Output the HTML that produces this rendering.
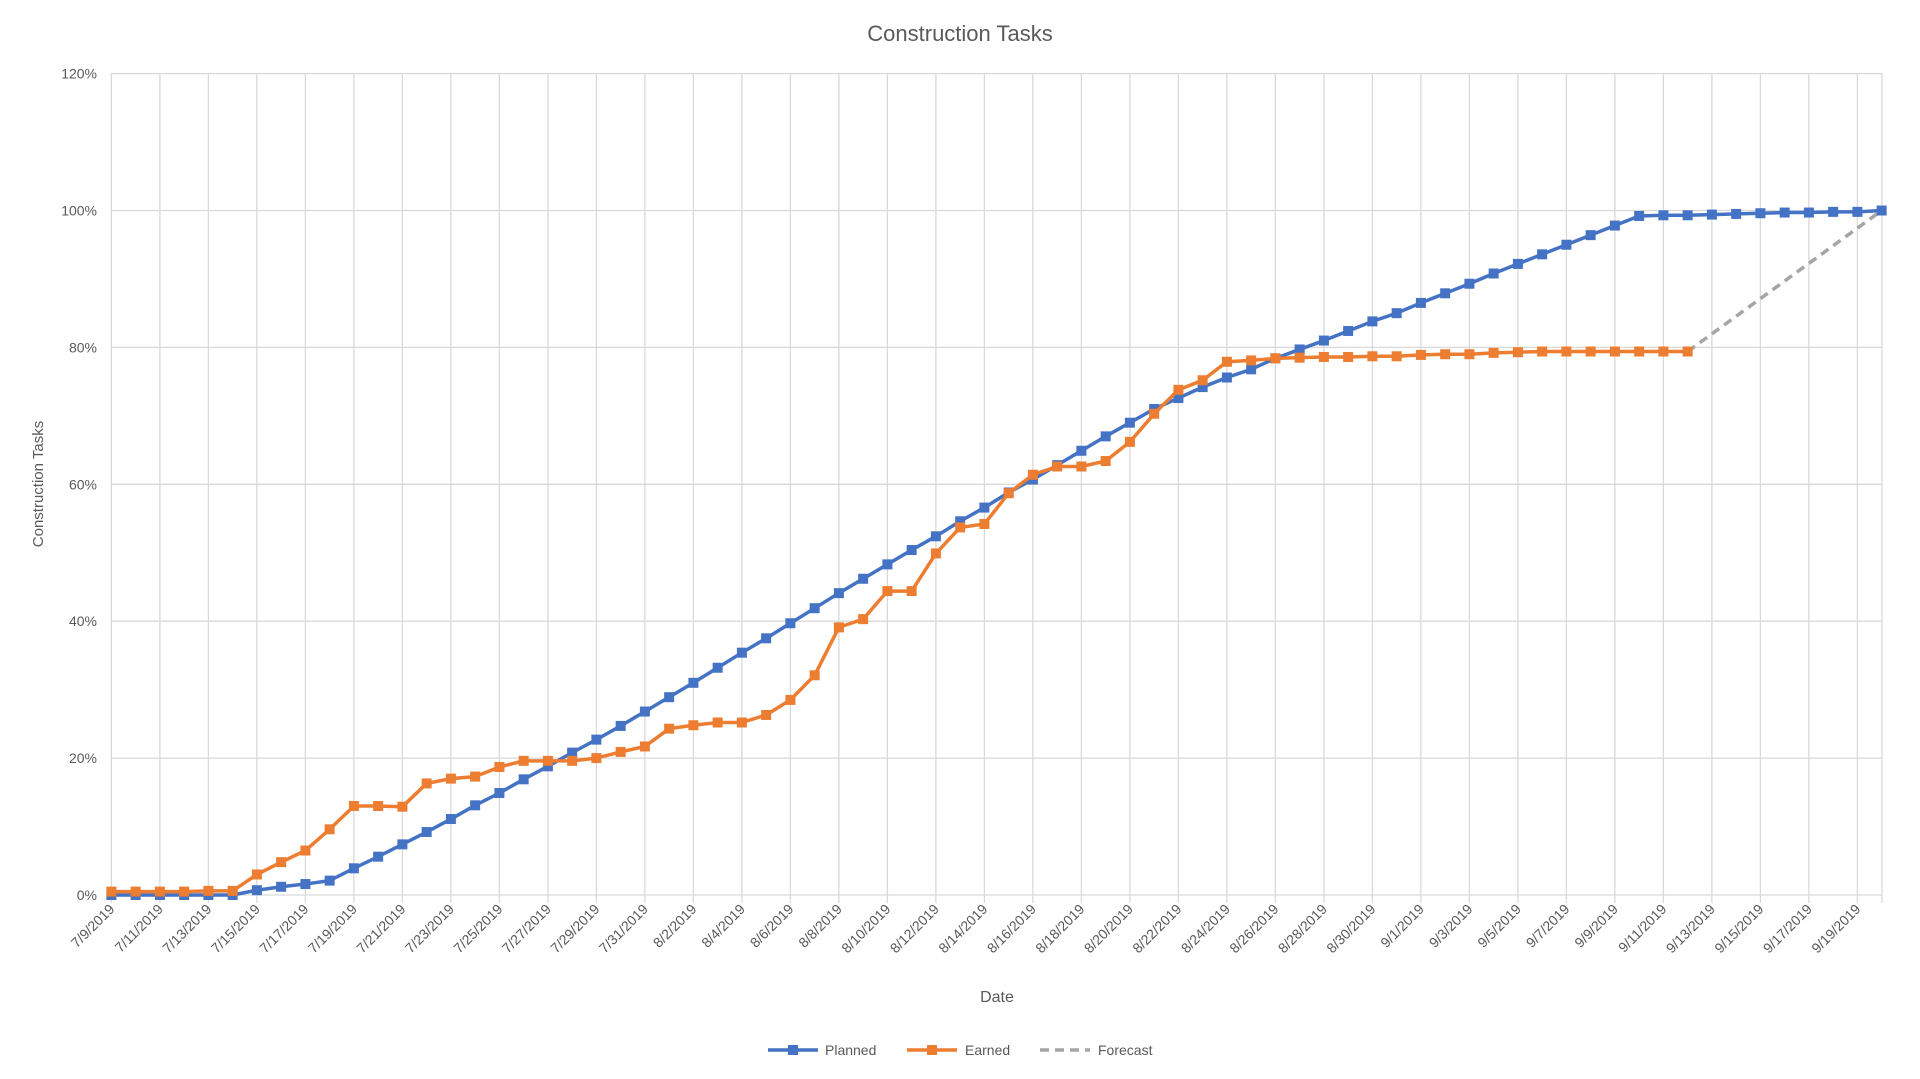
<!DOCTYPE html>
<html><head><meta charset="utf-8"><style>
html,body{margin:0;padding:0;background:#fff;}
svg{display:block;font-family:"Liberation Sans",sans-serif;}
</style></head><body>
<svg id="c" width="1920" height="1079" xmlns="http://www.w3.org/2000/svg"></svg>
<script>
const s=document.getElementById('c');
const X0=111.4,DX=24.25,Y0=895,PY=136.9/20;
const x=i=>X0+i*DX,y=v=>Y0-v*PY;
let h='';
h+='<text x="960" y="41" text-anchor="middle" font-size="22" fill="#595959">Construction Tasks</text>';
for(let k=0;k<=6;k++){const yy=y(k*20);h+=`<line x1="111" x2="1882" y1="${yy}" y2="${yy}" stroke="#d9d9d9" stroke-width="1.3"/>`;
h+=`<text x="97" y="${yy+5}" text-anchor="end" font-size="14" fill="#595959">${k*20}%</text>`;}
const d0=new Date(2019,6,9);
for(let i=0;i<=72;i+=2){const xx=x(i);h+=`<line x1="${xx}" x2="${xx}" y1="73" y2="903" stroke="#d9d9d9" stroke-width="1.3"/>`;
const d=new Date(d0.getTime()+i*86400000);const t=(d.getMonth()+1)+'/'+d.getDate()+'/2019';
h+=`<text transform="translate(${xx+4},${910}) rotate(-45)" text-anchor="end" font-size="14" fill="#595959">${t}</text>`;}
h+=`<line x1="1882" x2="1882" y1="73" y2="903" stroke="#d9d9d9" stroke-width="1.3"/>`;
const P=[0,0,0,0,0,0,0.7,1.2,1.6,2.1,3.9,5.6,7.4,9.2,11.1,13.1,14.9,16.9,18.8,20.8,22.7,24.7,26.8,28.9,31,33.2,35.4,37.5,39.7,41.9,44.1,46.2,48.3,50.4,52.4,54.6,56.6,58.8,60.7,62.8,64.9,67,69,71,72.6,74.2,75.6,76.8,78.4,79.7,81,82.4,83.8,85,86.5,87.9,89.3,90.8,92.2,93.6,95,96.4,97.8,99.2,99.3,99.3,99.4,99.5,99.6,99.7,99.7,99.8,99.8,100];
const E=[0.5,0.5,0.5,0.5,0.6,0.6,3,4.8,6.5,9.6,13,13,12.9,16.3,17,17.3,18.7,19.6,19.6,19.6,20,20.9,21.7,24.3,24.8,25.2,25.2,26.3,28.5,32.1,39.1,40.3,44.4,44.4,49.9,53.7,54.2,58.7,61.4,62.6,62.6,63.4,66.2,70.3,73.8,75.2,77.9,78.1,78.4,78.5,78.6,78.6,78.7,78.7,78.9,79,79,79.2,79.3,79.4,79.4,79.4,79.4,79.4,79.4,79.4];
h+=`<line x1="${x(65)}" y1="${y(79.4)}" x2="${x(73)}" y2="${y(100)}" stroke="#a5a5a5" stroke-width="3.5" stroke-dasharray="9,6"/>`;
function ser(a,c){h+=`<polyline fill="none" stroke="${c}" stroke-width="3.5" stroke-linejoin="round" points="${a.map((v,i)=>x(i)+','+y(v)).join(' ')}"/>`;
a.forEach((v,i)=>h+=`<rect x="${x(i)-5}" y="${y(v)-5}" width="10" height="10" fill="${c}"/>`);}
ser(P,'#4472c4');ser(E,'#ed7d31');
h+='<text x="997" y="1002" text-anchor="middle" font-size="16" fill="#595959">Date</text>';
h+='<text transform="translate(43,484) rotate(-90)" text-anchor="middle" font-size="15" fill="#595959">Construction Tasks</text>';
const ly=1050;
h+=`<line x1="768" x2="818" y1="${ly}" y2="${ly}" stroke="#4472c4" stroke-width="3.5"/><rect x="788" y="${ly-5}" width="10" height="10" fill="#4472c4"/><text x="825" y="${ly+5}" font-size="14" fill="#595959">Planned</text>`;
h+=`<line x1="907" x2="957" y1="${ly}" y2="${ly}" stroke="#ed7d31" stroke-width="3.5"/><rect x="927" y="${ly-5}" width="10" height="10" fill="#ed7d31"/><text x="965" y="${ly+5}" font-size="14" fill="#595959">Earned</text>`;
h+=`<line x1="1040" x2="1090" y1="${ly}" y2="${ly}" stroke="#a5a5a5" stroke-width="3.5" stroke-dasharray="9,6"/><text x="1098" y="${ly+5}" font-size="14" fill="#595959">Forecast</text>`;
s.innerHTML=h;
</script>
</body></html>
